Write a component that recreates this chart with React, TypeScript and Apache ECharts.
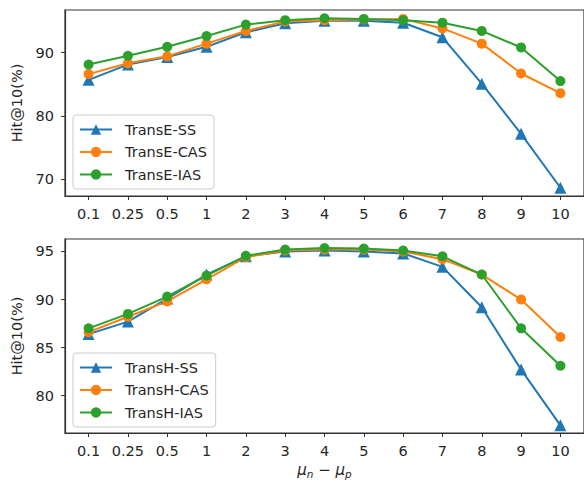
import React, { useEffect, useRef } from "react";
import * as echarts from "echarts";

const categories = ["0.1", "0.25", "0.5", "1", "2", "3", "4", "5", "6", "7", "8", "9", "10"];

const transESS = [85.7, 88.1, 89.3, 90.9, 93.2, 94.6, 95.0, 95.0, 94.7, 92.4, 85.1, 77.2, 68.7];
const transECAS = [86.6, 88.3, 89.4, 91.4, 93.4, 94.9, 95.1, 95.2, 95.3, 93.8, 91.4, 86.7, 83.6];
const transEIAS = [88.1, 89.5, 90.9, 92.6, 94.4, 95.1, 95.4, 95.3, 95.1, 94.7, 93.4, 90.8, 85.5];

const transHSS = [86.4, 87.7, 90.1, 92.6, 94.5, 95.0, 95.1, 95.0, 94.8, 93.4, 89.2, 82.7, 76.9];
const transHCAS = [86.6, 88.2, 89.8, 92.1, 94.4, 95.1, 95.2, 95.2, 95.0, 94.2, 92.6, 90.0, 86.1];
const transHIAS = [87.0, 88.5, 90.3, 92.5, 94.55, 95.2, 95.35, 95.3, 95.1, 94.5, 92.6, 87.0, 83.1];

const topTicks = [70, 80, 90];
const bottomTicks = [80, 85, 90, 95];

const C_BLUE = "#1f77b4";
const C_ORANGE = "#ff7f0e";
const C_GREEN = "#2ca02c";
const FONT = "DejaVu Sans";
const TXT = "#262626";
const SPINE = "#333333";
const FS = 14.5;

const toPts = (arr: number[]) => arr.map((v, i) => [i, v]);
const xIdx = categories.map((_, i) => i);

export default function App() {
  const ref = useRef<HTMLDivElement>(null);
  useEffect(() => {
    if (!ref.current) return;
    const chart = echarts.init(ref.current, undefined, { renderer: "svg" });

    const mkX = (gridIndex: number, withName: boolean) => ({
      type: "value",
      gridIndex,
      min: -0.6,
      max: 12.6,
      splitLine: { show: false },
      axisLine: { show: true, onZero: false, lineStyle: { color: SPINE, width: 1.2 } },
      axisTick: { show: true, customValues: xIdx, length: 4, lineStyle: { color: SPINE, width: 1 } },
      axisLabel: {
        customValues: xIdx,
        formatter: (v: number) => categories[Math.round(v)] ?? "",
        color: TXT,
        fontFamily: FONT,
        fontSize: FS,
        margin: 10,
      },
      ...(withName
        ? {
            name: "{m|μ}{s|n}{o| − }{m|μ}{s|p}",
            nameLocation: "middle",
            nameGap: 28,
            nameTextStyle: {
              color: TXT,
              fontFamily: FONT,
              rich: {
                m: { fontSize: 15, fontStyle: "italic", fontFamily: FONT, color: TXT, lineHeight: 18, verticalAlign: "middle" },
                s: { fontSize: 10.5, fontStyle: "italic", fontFamily: FONT, color: TXT, lineHeight: 10, verticalAlign: "bottom", padding: [6, 0, 0, 0] },
                o: { fontSize: 15, fontFamily: FONT, color: TXT, lineHeight: 18, verticalAlign: "middle" },
              },
            },
          }
        : {}),
    });

    const mkY = (gridIndex: number, min: number, max: number, ticks: number[]) => ({
      type: "value",
      gridIndex,
      min,
      max,
      name: "Hit@10(%)",
      nameLocation: "middle",
      nameGap: 39,
      nameTextStyle: { color: TXT, fontFamily: FONT, fontSize: FS },
      splitLine: { show: false },
      axisLine: { show: true, onZero: false, lineStyle: { color: SPINE, width: 1.2 } },
      axisTick: { show: true, customValues: ticks, length: 4, lineStyle: { color: SPINE, width: 1 } },
      axisLabel: {
        customValues: ticks,
        color: TXT,
        fontFamily: FONT,
        fontSize: FS,
        margin: 11,
      },
    });

    const mkSeries = (name: string, data: number[], color: string, tri: boolean, idx: number) => ({
      name,
      type: "line",
      xAxisIndex: idx,
      yAxisIndex: idx,
      data: toPts(data),
      symbol: tri ? "triangle" : "circle",
      symbolSize: tri ? 12 : 10,
      showAllSymbol: true,
      lineStyle: { color, width: 2 },
      itemStyle: { color },
    });

    const legendBase = {
      orient: "vertical",
      left: 73,
      itemWidth: 32,
      itemHeight: 13,
      itemGap: 7.5,
      padding: [7, 7, 7, 6],
      backgroundColor: "rgba(255,255,255,0.8)",
      borderColor: "#cccccc",
      borderWidth: 1,
      borderRadius: 3,
      textStyle: { color: TXT, fontFamily: FONT, fontSize: FS, padding: [0, 0, 0, 8] },
    };

    chart.setOption({
      animation: false,
      backgroundColor: "#ffffff",
      grid: [
        { left: 65, top: 10, width: 522, height: 186, show: true, borderColor: SPINE, borderWidth: 1.2, backgroundColor: "transparent" },
        { left: 65, top: 239, width: 522, height: 195, show: true, borderColor: SPINE, borderWidth: 1.2, backgroundColor: "transparent" },
      ],
      xAxis: [mkX(0, false), mkX(1, true)],
      yAxis: [mkY(0, 67.4, 96.7, topTicks), mkY(1, 76.1, 96.3, bottomTicks)],
      legend: [
        { ...legendBase, top: 115, data: ["TransE-SS", "TransE-CAS", "TransE-IAS"] },
        { ...legendBase, top: 353, data: ["TransH-SS", "TransH-CAS", "TransH-IAS"] },
      ],
      series: [
        mkSeries("TransE-SS", transESS, C_BLUE, true, 0),
        mkSeries("TransE-CAS", transECAS, C_ORANGE, false, 0),
        mkSeries("TransE-IAS", transEIAS, C_GREEN, false, 0),
        mkSeries("TransH-SS", transHSS, C_BLUE, true, 1),
        mkSeries("TransH-CAS", transHCAS, C_ORANGE, false, 1),
        mkSeries("TransH-IAS", transHIAS, C_GREEN, false, 1),
      ],
    });
    return () => chart.dispose();
  }, []);
  return <div ref={ref} style={{ width: 584, height: 480, position: "absolute", left: 0, top: 0 }} />;
}
